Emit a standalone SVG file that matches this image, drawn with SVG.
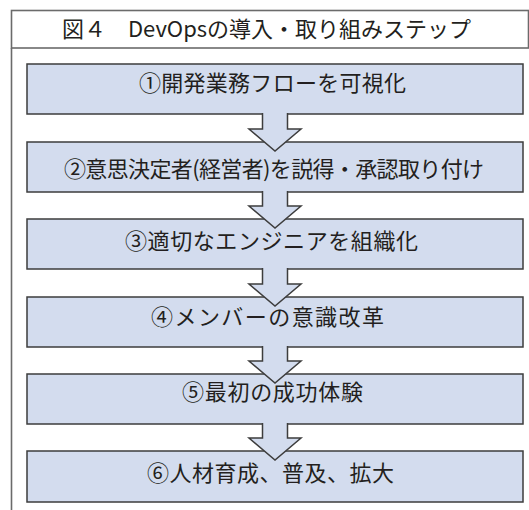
<svg xmlns="http://www.w3.org/2000/svg" width="529" height="510" viewBox="0 0 529 510">
<style>
.box{fill:#d3dcee;stroke:#3d3d3d;stroke-width:1.5}
.arr{fill:#d3dcee;stroke:#3d3d3d;stroke-width:1.5;stroke-linejoin:miter}
.frame{fill:none;stroke:#6b6b6b;stroke-width:1.6}
.t{font-family:"Noto Sans CJK JP","Noto Sans CJK SC",sans-serif;font-size:22px;font-weight:400;fill:#231f20;text-anchor:middle}
</style>
<rect width="529" height="510" fill="#ffffff"/>
<g id="frame">
<rect x="11.5" y="10.5" width="517" height="37.5" fill="#d3dcee" class="frame"/>
<line x1="11.5" y1="48" x2="11.5" y2="510" class="frame"/>
<text class="t" x="266.5" y="37" textLength="409" lengthAdjust="spacing">図４　DevOpsの導入・取り組みステップ</text>
</g>
<g id="step1"><rect class="box" x="27" y="64" width="496" height="50"/><text class="t" x="272.5" y="91" textLength="267" lengthAdjust="spacing">①開発業務フローを可視化</text></g>
<g id="step2"><rect class="box" x="27" y="142" width="496" height="50"/><text class="t" x="274" y="176.5" textLength="420" lengthAdjust="spacing">②意思決定者(経営者)を説得・承認取り付け</text></g>
<g id="step3"><rect class="box" x="27" y="219" width="496" height="50"/><text class="t" x="271.5" y="248.5" textLength="293" lengthAdjust="spacing">③適切なエンジニアを組織化</text></g>
<g id="step4"><rect class="box" x="27" y="297" width="496" height="50"/><text class="t" x="267.5" y="324.5" textLength="233" lengthAdjust="spacing">④メンバーの意識改革</text></g>
<g id="step5"><rect class="box" x="27" y="374" width="496" height="50"/><text class="t" x="272.5" y="400" textLength="181" lengthAdjust="spacing">⑤最初の成功体験</text></g>
<g id="step6"><rect class="box" x="27" y="451" width="496" height="51"/><text class="t" x="270.5" y="481" textLength="247" lengthAdjust="spacing">⑥人材育成、普及、拡大</text></g>
<g id="connectors">
<path class="arr" d="M262.5,113 V129 H249 L275,151 L301,129 H287.5 V113"/>
<path class="arr" d="M262.5,191 V206 H249 L275,228 L301,206 H287.5 V191"/>
<path class="arr" d="M262.5,268 V284 H249 L275,306 L301,284 H287.5 V268"/>
<path class="arr" d="M262.5,346 V361 H249 L275,383 L301,361 H287.5 V346"/>
<path class="arr" d="M262.5,423 V438 H249 L275,460 L301,438 H287.5 V423"/>
</g>
</svg>
